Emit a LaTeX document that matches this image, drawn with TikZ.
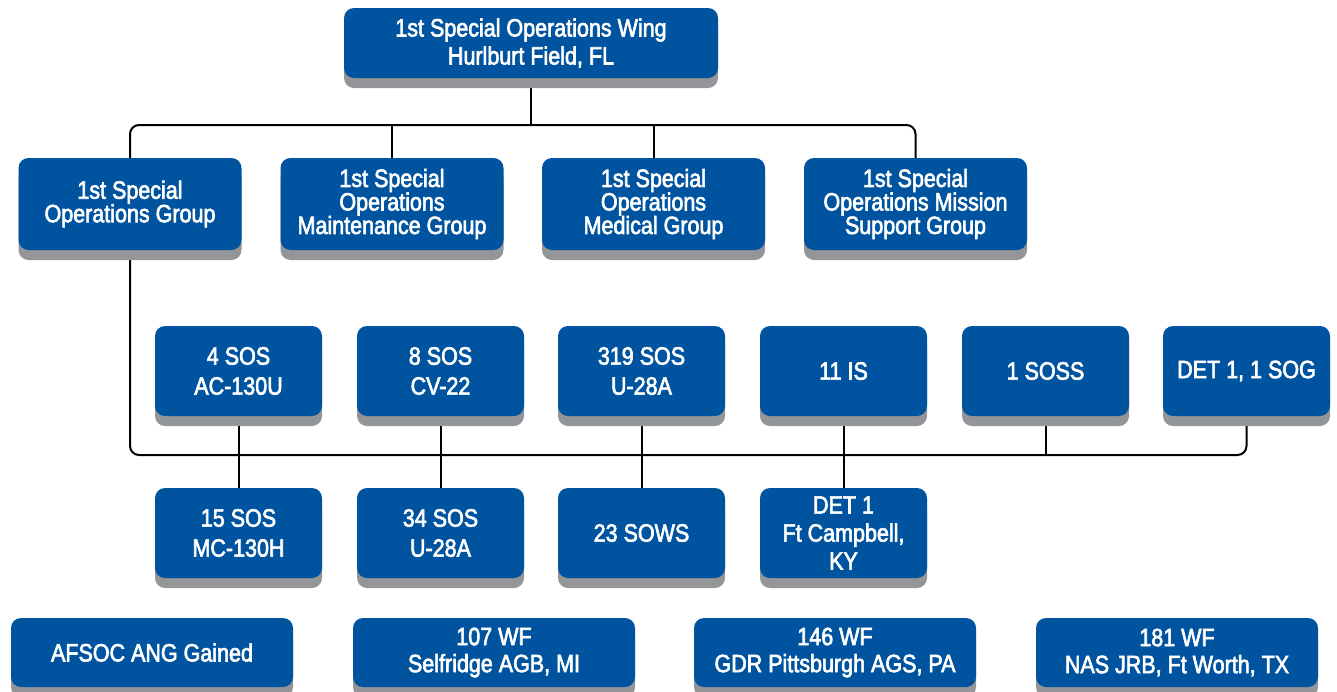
\documentclass[tikz,border=0pt]{standalone}
\usepackage{fontspec}
\setmainfont{Liberation Sans}[FakeStretch=0.86, FakeBold=2.5]
\usetikzlibrary{shadows,backgrounds}
\definecolor{boxblue}{RGB}{0,83,158}
\definecolor{shadowgray}{RGB}{147,149,152}
\begin{document}
\begin{tikzpicture}[x=1pt,y=-1pt,
  orgbox/.style={draw=none, fill=boxblue, text=white, rounded corners=10pt,
    inner sep=0pt, align=center,
    drop shadow={shadow xshift=0pt, shadow yshift=-10pt, fill=shadowgray, opacity=1}},
  topbox/.style={orgbox, minimum width=374pt, minimum height=70pt, font=\fontsize{25}{28}\selectfont},
  grpbox/.style={orgbox, minimum width=223pt, minimum height=92pt, font=\fontsize{25}{23.5}\selectfont},
  sqbox/.style={orgbox, minimum width=167pt, minimum height=90pt, font=\fontsize{25}{30}\selectfont},
  angbox/.style={orgbox, minimum width=282pt, minimum height=69pt, font=\fontsize{25}{27}\selectfont},
  conn/.style={draw=black, line width=2pt, rounded corners=9pt}]
\useasboundingbox (0,0) rectangle (1337,691);
% top
\node[topbox] (wing) at (531,43) {1st Special Operations Wing\\Hurlburt Field, FL};
% groups
\node[grpbox] (g1) at (130,204) {1st Special\\Operations Group};
\node[grpbox] (g2) at (392,204) {1st Special\\Operations\\Maintenance Group};
\node[grpbox] (g3) at (653.5,204) {1st Special\\Operations\\Medical Group};
\node[grpbox] (g4) at (915.5,204) {1st Special\\Operations Mission\\Support Group};
% squadrons row 1
\node[sqbox] (s1) at (238.5,371) {4 SOS\\AC-130U};
\node[sqbox] (s2) at (440.5,371) {8 SOS\\CV-22};
\node[sqbox] (s3) at (641.5,371) {319 SOS\\U-28A};
\node[sqbox] (s4) at (843.5,371) {11 IS};
\node[sqbox] (s5) at (1045.5,371) {1 SOSS};
\node[sqbox] (s6) at (1246.5,371) {DET 1, 1 SOG};
% squadrons row 2
\node[sqbox] (t1) at (238.5,533) {15 SOS\\MC-130H};
\node[sqbox] (t2) at (440.5,533) {34 SOS\\U-28A};
\node[sqbox] (t3) at (641.5,533) {23 SOWS};
\node[sqbox, font=\fontsize{25}{28}\selectfont] (t4) at (843.5,533) {DET 1\\Ft Campbell,\\KY};
% ANG gained row
\node[angbox] (a1) at (152,652.5) {AFSOC ANG Gained};
\node[angbox] (a2) at (494,652.5) {107 WF\\Selfridge AGB, MI};
\node[angbox] (a3) at (835,652.5) {146 WF\\GDR Pittsburgh AGS, PA};
\node[angbox] (a4) at (1177,652.5) {181 WF\\NAS JRB, Ft Worth, TX};
% connectors
\coordinate (bus1) at (531,125);
\coordinate (bus2) at (700,455);
\begin{scope}[on background layer]
\draw[conn] (wing.south) -- (bus1);
\draw[conn] (g1.north) |- (bus1) -| (g4.north);
\draw[conn] (g2.north) -- (g2.north |- bus1);
\draw[conn] (g3.north) -- (g3.north |- bus1);
\draw[conn] (g1.south) |- (bus2) -| (s6.south);
\draw[conn] (s1.south) -- (t1.north);
\draw[conn] (s2.south) -- (t2.north);
\draw[conn] (s3.south) -- (t3.north);
\draw[conn] (s4.south) -- (t4.north);
\draw[conn] (s5.south) -- (s5.south |- bus2);
\end{scope}
\end{tikzpicture}
\end{document}
